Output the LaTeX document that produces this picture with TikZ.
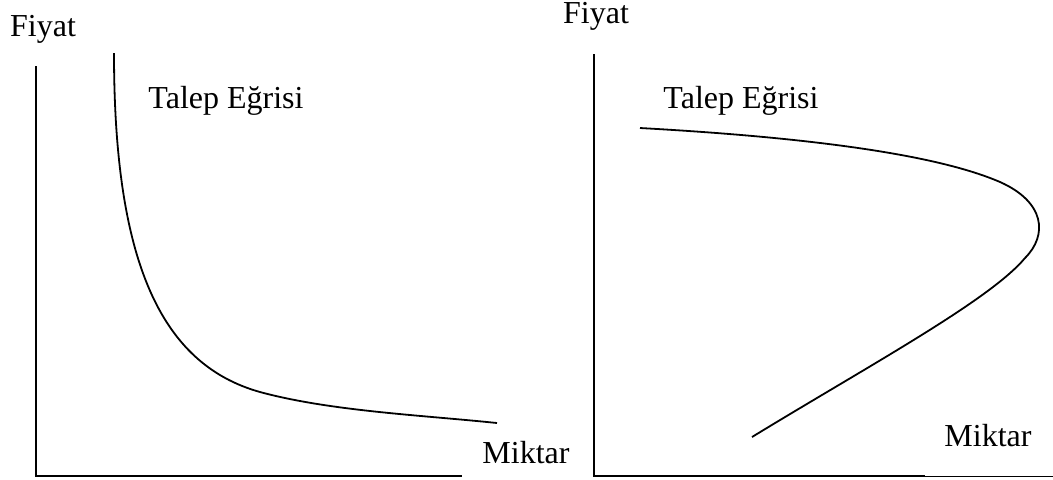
\documentclass[tikz,border=0pt]{standalone}
\usepackage{fontspec}
\setmainfont{Liberation Serif}
\usetikzlibrary{positioning}

\begin{document}
\begin{tikzpicture}[x=0.5pt, y=-0.5pt, every node/.style={inner sep=0pt, font=\fontsize{16}{19}\selectfont},
    axis/.style={line width=1pt}, curve/.style={line width=0.9pt}]
    \useasboundingbox (0,0) rectangle (1053,479);
    % left panel
    \coordinate (ltop) at (36,66);
    \coordinate (lorig) at (36,476);
    \coordinate (lend) at (462,476);
    \node[anchor=base] (lprice) at (43,36) {Fiyat};
    \node[anchor=base] (ldemand) at (226,108) {Talep Eğrisi};
    \node[anchor=base] (lqty) at (526,463) {Miktar};

    % right panel
    \coordinate (rtop) at (594,54);
    \coordinate (rorig) at (594,476);
    \coordinate (rend) at (925,476);
    \coordinate (redge) at (1053,476);
    \node[anchor=base] (rprice) at (596,23) {Fiyat};
    \node[anchor=base] (rdemand) at (741,108) {Talep Eğrisi};
    \node[anchor=base] (rqty) at (988,446) {Miktar};

    % axes
    \draw[axis] (ltop) -- (lorig) -- (lend);
    \draw[axis] (rtop) -- (rorig) -- (rend);
    \draw[line width=0.4pt] (rend) -- (redge);

    % demand curves
    \draw[curve] (114,53) .. controls (114,260) and (160,364) .. (260,392)
        .. controls (330,411) and (420,415) .. (497,423);
    \draw[curve] (640,128) .. controls (820,138) and (940,156) .. (1000,182)
        .. controls (1045,202) and (1048,235) .. (1025,258)
        .. controls (990,300) and (870,365) .. (752,437);
\end{tikzpicture}
\end{document}
